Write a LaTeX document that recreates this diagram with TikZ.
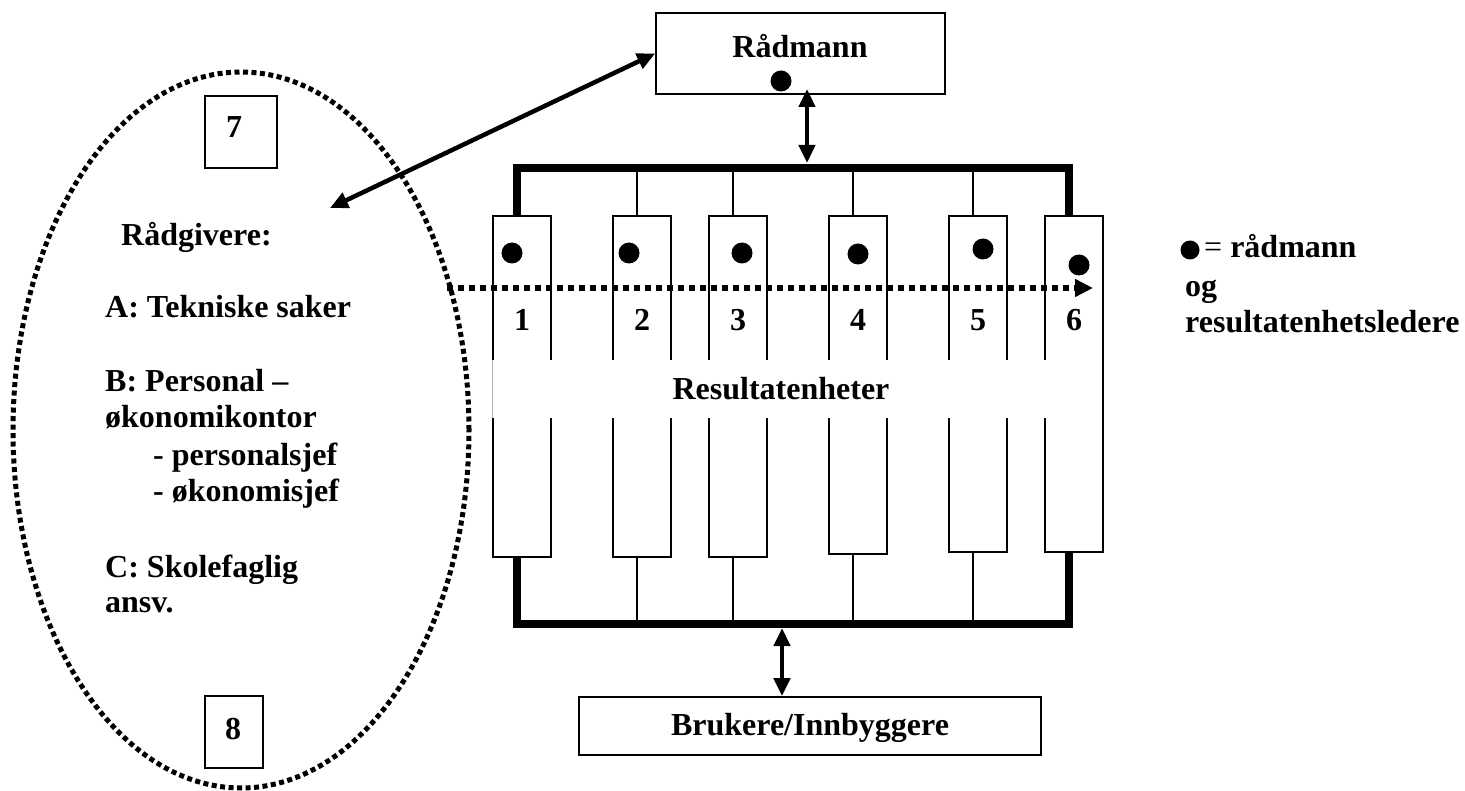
\documentclass[tikz,border=0pt]{standalone}
\usepackage{fontspec}
\setmainfont{Liberation Serif}
\usetikzlibrary{arrows.meta,shapes.geometric}
\begin{document}
\begin{tikzpicture}[x=1pt,y=-1pt,
  every node/.style={font=\bfseries\fontsize{32}{38}\selectfont, inner sep=0pt},
  box/.style={draw, line width=1.6pt, fill=white},
  colbox/.style={draw, line width=1.5pt, fill=white, minimum width=58pt},
  dot/.style={circle, fill=black, minimum size=21pt},
  bar/.style={line width=8pt},
  conn/.style={line width=1.5pt},
  dbl/.style={line width=4.5pt, {Triangle[length=18pt,width=16pt]}-{Triangle[length=18pt,width=16pt]}},
  dotline/.style={line width=5pt, dash pattern=on 5pt off 3.5pt},
  txt/.style={anchor=base west},
]
\useasboundingbox (0,0) rectangle (1465,791);
\fill[white] (0,0) rectangle (1465,791);

% advisers ellipse
\node[ellipse, dotline, draw, minimum width=456pt, minimum height=716pt] (ell) at (241,430) {};
\node[box, minimum width=72pt, minimum height=72pt] (b7) at (241,132) {};
\node[anchor=base] (t7) at (234,138) {7};
\node[box, minimum width=58pt, minimum height=72pt] (b8) at (234,732) {};
\node[anchor=base] (t8) at (233,739) {8};

\node[txt] (r0) at (121,246) {Rådgivere:};
\node[txt] (r1) at (105,318) {A: Tekniske saker};
\node[txt] (r2) at (105,392) {B: Personal –};
\node[txt] (r3) at (105,428) {økonomikontor};
\node[txt] (r4) at (153,466) {- personalsjef};
\node[txt] (r5) at (153,501) {- økonomisjef};
\node[txt] (r6) at (105,577) {C: Skolefaglig};
\node[txt] (r7) at (105,612) {ansv.};

% Rådmann
\node[box, minimum width=289pt, minimum height=81pt] (rad) at (800.5,53.5) {};
\node[anchor=base] (radt) at (800,58) {Rådmann};
\node[dot] (radd) at (781,81) {};

% columns
\node[colbox, minimum height=341pt] (c1) at (522,386.5) {};
\node[colbox, minimum height=341pt] (c2) at (642,386.5) {};
\node[colbox, minimum height=341pt] (c3) at (738,386.5) {};
\node[colbox, minimum height=338pt] (c4) at (858,385) {};
\node[colbox, minimum height=336pt] (c5) at (978,384) {};
\node[colbox, minimum height=336pt] (c6) at (1074,384) {};

% band
\node[fill=white, minimum width=610pt, minimum height=58pt] (band) at (798,389) {};
\draw[line width=0.8pt, gray!60] (band.north west) -- (band.south west);
\draw[line width=1.5pt] (band.north east) -- (band.south east);
\node[anchor=base] (rest) at (781,400) {Resultatenheter};

% bars
\coordinate (tbR) at (1069,168);
\coordinate (bbR) at (1069,624);
\draw[bar] ([xshift=-5pt]c1.north) |- (tbR) -- ([xshift=-5pt]c6.north);
\draw[bar] ([xshift=-5pt]c1.south) |- (bbR) -- ([xshift=-5pt]c6.south);
\foreach \i in {2,3,4,5} {
  \draw[conn] ([xshift=-5pt]c\i.north) -- ++(0,-48);
}
\draw[conn] ([xshift=-5pt]c2.south) -- ++(0,67);
\draw[conn] ([xshift=-5pt]c3.south) -- ++(0,67);
\draw[conn] ([xshift=-5pt]c4.south) -- ++(0,70);
\draw[conn] ([xshift=-5pt]c5.south) -- ++(0,72);

% dots in columns
\node[dot] (d1) at (512,253) {};
\node[dot] (d2) at (629,253) {};
\node[dot] (d3) at (742,253) {};
\node[dot] (d4) at (858,254) {};
\node[dot] (d5) at (983,249) {};
\node[dot] (d6) at (1079,265) {};

% numbers
\node[anchor=base] (n1) at (522,331) {1};
\node[anchor=base] (n2) at (642,331) {2};
\node[anchor=base] (n3) at (738,331) {3};
\node[anchor=base] (n4) at (858,331) {4};
\node[anchor=base] (n5) at (978,331) {5};
\node[anchor=base] (n6) at (1074,331) {6};

% dotted arrow
\coordinate (da) at (447,288);
\coordinate (db) at (1093,288);
\draw[line width=6pt, dash pattern=on 6pt off 5pt, -{Triangle[length=18pt,width=17pt]}] (da) -- (db);

% Brukere
\node[box, minimum width=462pt, minimum height=58pt] (bru) at (810,726) {};
\node[anchor=base] (brut) at (810,735) {Brukere/Innbyggere};

% arrows
\coordinate (radg) at (330,208);
\draw[dbl] (radg) -- (rad.west);
\coordinate (ta) at (807,89);
\coordinate (tb) at (807,163);
\draw[dbl] (ta) -- (tb);
\coordinate (ba) at (782,628);
\draw[dbl] (ba) -- (ba |- bru.north);

% legend
\node[dot, minimum size=19pt] (ld) at (1190,250) {};
\node[txt] (l1) at (1204,258) {{\mdseries =} rådmann};
\node[txt] (l2) at (1185,297) {og};
\node[txt] (l3) at (1185,333) {resultatenhetsledere};
\end{tikzpicture}
\end{document}
